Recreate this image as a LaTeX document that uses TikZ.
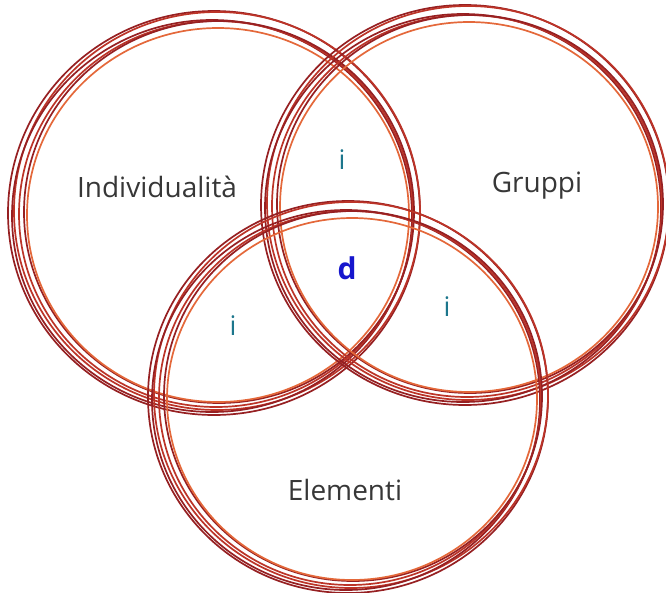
\documentclass[tikz,border=0pt]{standalone}
\usepackage{fontspec}
\setmainfont{Open Sans}
\usepackage{tikz}
\usetikzlibrary{positioning}
\definecolor{ringDark}{RGB}{150,32,34}
\definecolor{ringRed}{RGB}{188,52,40}
\definecolor{ringOrange}{RGB}{228,104,58}
\definecolor{labelGray}{RGB}{55,55,55}
\definecolor{interTeal}{RGB}{28,118,140}
\definecolor{coreBlue}{RGB}{22,22,205}
\tikzset{
  ringline/.style={line width=1.7pt},
  setlabel/.style={font=\fontsize{28}{32}\selectfont, text=labelGray},
  interlabel/.style={font=\fontsize{27}{32}\selectfont, text=interTeal},
  corelabel/.style={font=\bfseries\fontsize{30}{32}\selectfont, text=coreBlue}
}
\newcommand{\sketchring}[3]{%
  \foreach \dx/\dy/\dr/\cl in {0/0/7/ringDark, 3/-2/4/ringRed, -2/3/1/ringDark, 2/1/-2/ringRed, 5/-1/-4/ringDark, 4/2/-8/ringOrange}
    \draw[ringline, draw=\cl] (#1+\dx,#2+\dy) ellipse[x radius=#3+\dr, y radius=#3+\dr-4];
}

\begin{document}
\begin{tikzpicture}[x=1pt, y=-1pt]
  \useasboundingbox (0,0) rectangle (666,592);
  \sketchring{214}{213}{199}
  \sketchring{465}{205}{197}
  \sketchring{348}{397}{193}

  \node[setlabel] (indiv) at (157,187) {Individualità};
  \node[setlabel] (gruppi) at (537,186) {Gruppi};
  \node[setlabel] (elem) at (345,490) {Elementi};
  \node[interlabel] (iTop) at (342,160) {i};
  \node[interlabel] (iLeft) at (233,326) {i};
  \node[interlabel] (iRight) at (447,307) {i};
  \node[corelabel] (core) at (347,268) {d};
\end{tikzpicture}
\end{document}
